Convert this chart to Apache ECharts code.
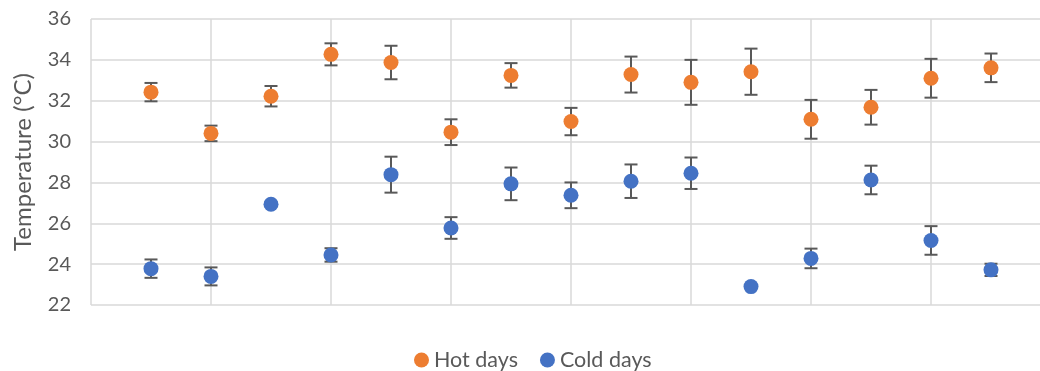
<!DOCTYPE html>
<html>
<head>
<meta charset="utf-8">
<script src="https://cdn.jsdelivr.net/npm/echarts@6/dist/echarts.min.js"></script>
<style>
html,body{margin:0;padding:0;background:#fff;overflow:hidden;width:1040px;height:371px;}
#chart{width:1051px;height:371px;}
</style>
</head>
<body>
<div id="chart"></div>
<script>
// Data
const positions = [1,2,3,4,5,6,7,8,9,10,11,12,13,14,15];
const hotValues = [32.42,30.40,32.22,34.27,33.87,30.46,33.24,30.98,33.28,32.90,33.42,31.09,31.68,33.10,33.61];
const hotErrors = [0.45,0.38,0.50,0.54,0.82,0.63,0.60,0.67,0.88,1.10,1.13,0.95,0.85,0.95,0.70];
const coldValues = [23.78,23.40,26.93,24.45,28.38,25.77,27.93,27.37,28.06,28.45,22.90,24.28,28.12,25.16,23.72];
const coldErrors = [0.45,0.44,0.10,0.33,0.88,0.53,0.80,0.63,0.82,0.77,0.05,0.48,0.70,0.70,0.30];
const yTicks = [22,24,26,28,30,32,34,36];
const seriesNames = ['Hot days','Cold days'];

const FONT = 'Lato';
const TXT = '#595959';
const GRID = '#d9d9d9';

function pts(vals){ return positions.map((x,i)=>[x, vals[i]]); }
function errs(vals, e){ return positions.map((x,i)=>[x, vals[i]-e[i], vals[i]+e[i]]); }

function errorRender(params, api){
  const x = api.value(0);
  const lo = api.coord([x, api.value(1)]);
  const hi = api.coord([x, api.value(2)]);
  const hw = 6.5;
  const style = {stroke:'#595959', lineWidth:2};
  return {
    type:'group',
    children:[
      {type:'line', shape:{x1:lo[0],y1:lo[1],x2:hi[0],y2:hi[1]}, style},
      {type:'line', shape:{x1:lo[0]-hw,y1:lo[1],x2:lo[0]+hw,y2:lo[1]}, style},
      {type:'line', shape:{x1:hi[0]-hw,y1:hi[1],x2:hi[0]+hw,y2:hi[1]}, style}
    ]
  };
}

const chart = echarts.init(document.getElementById('chart'), null, {renderer:'canvas'});
chart.setOption({
  animation:false,
  textStyle:{fontFamily:FONT},
  grid:{left:91, top:19, bottom:66, right:0, containLabel:false},
  legend:{
    data:seriesNames,
    left:409, top:344,
    icon:'circle', itemWidth:15, itemHeight:15, itemGap:22,
    textStyle:{fontFamily:FONT, fontSize:21.5, color:TXT}
  },
  xAxis:{
    type:'value', min:0, max:16, interval:2,
    axisLine:{show:false}, axisTick:{show:false}, axisLabel:{show:false},
    splitLine:{show:true, lineStyle:{color:GRID, width:1.5}}
  },
  yAxis:{
    type:'value', min:yTicks[0], max:yTicks[yTicks.length-1], interval:2,
    name:'Temperature (°C)', nameLocation:'middle', nameGap:56,
    nameTextStyle:{fontFamily:FONT, fontSize:24, color:TXT},
    axisLine:{show:false}, axisTick:{show:false},
    axisLabel:{fontFamily:FONT, fontSize:20, color:TXT, margin:20},
    splitLine:{show:true, lineStyle:{color:GRID, width:1.5}}
  },
  series:[
    {type:'custom', name:'hotErr', renderItem:errorRender, data:errs(hotValues,hotErrors), z:1, silent:true,
     encode:{x:0,y:[1,2]}},
    {type:'custom', name:'coldErr', renderItem:errorRender, data:errs(coldValues,coldErrors), z:1, silent:true,
     encode:{x:0,y:[1,2]}},
    {type:'scatter', name:seriesNames[0], data:pts(hotValues), symbolSize:15, z:3,
     itemStyle:{color:'#ED7D31', opacity:1}},
    {type:'scatter', name:seriesNames[1], data:pts(coldValues), symbolSize:15, z:3,
     itemStyle:{color:'#4472C4', opacity:1}}
  ]
});
</script>
</body>
</html>
